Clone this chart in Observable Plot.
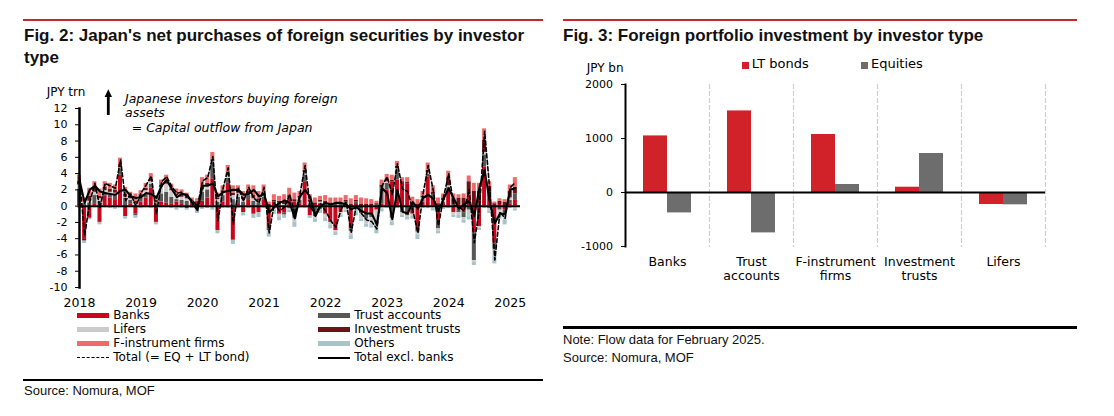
<!DOCTYPE html>
<html><head><meta charset="utf-8">
<script src="https://cdn.jsdelivr.net/npm/d3@7"></script>
<script src="https://cdn.jsdelivr.net/npm/@observablehq/plot@0.6"></script>
<style>
body{margin:0;background:#fff;}
#root{position:relative;width:1114px;height:416px;overflow:hidden;font-family:"DejaVu Sans",sans-serif;color:#000;}
.abs{position:absolute;white-space:nowrap;}
.title{font-family:"Liberation Sans",Arial,sans-serif;font-weight:bold;font-size:17px;line-height:21.5px;color:#111;}
.src{font-family:"Liberation Sans",Arial,sans-serif;font-size:13px;line-height:15px;color:#111;}
.ann{font-family:"DejaVu Sans",sans-serif;font-style:italic;font-size:12.5px;line-height:14.5px;}
.leg{font-family:"DejaVu Sans",sans-serif;font-size:12px;line-height:14px;}
svg{overflow:visible;}
</style>
</head><body>
<div id="root">
  <div class="abs" style="left:23px;top:18.7px;width:520px;height:2.8px;background:#c4262e"></div>
  <div class="abs" style="left:563px;top:18.7px;width:514px;height:2.8px;background:#c4262e"></div>
  <div class="abs title" style="left:24px;top:25.4px;">Fig. 2: Japan's net purchases of foreign securities by investor<br>type</div>
  <div class="abs title" style="left:563px;top:25.4px;">Fig. 3: Foreign portfolio investment by investor type</div>

  <div class="abs" style="left:23px;top:379px;width:520px;height:2.2px;background:#000"></div>
  <div class="abs src" style="left:24px;top:383px;">Source: Nomura, MOF</div>
  <div class="abs" style="left:563px;top:326px;width:514px;height:2.6px;background:#000"></div>
  <div class="abs src" style="left:563px;top:331.5px;">Note: Flow data for February 2025.</div>
  <div class="abs src" style="left:563px;top:349.5px;">Source: Nomura, MOF</div>

  <div id="left" class="abs" style="left:0;top:80px;"></div>
  <div id="right" class="abs" style="left:555px;top:60px;"></div>

  <div class="abs" style="left:46.7px;top:84.8px;font-size:12px;line-height:14px;">JPY trn</div>
  <svg class="abs" style="left:100px;top:86px;" width="16" height="32">
    <polygon points="8.3,3.3 4.6,11 12,11" fill="#000"/>
    <rect x="6.9" y="10" width="2.8" height="19" fill="#000"/>
  </svg>
  <div class="abs ann" style="left:125px;top:91.6px;">Japanese investors buying foreign</div>
  <div class="abs ann" style="left:125px;top:106.2px;">assets</div>
  <div class="abs ann" style="left:131.7px;top:120.8px;">= Capital outflow from Japan</div>

  <div id="legLeft"></div>

  <div class="abs" style="left:586.7px;top:61.6px;font-size:12px;line-height:13px;">JPY bn</div>
  <div id="legRight"></div>
</div>
<script>
// ---------- Fig. 2 data (JPY trn, monthly Jan 2018 – Feb 2025) ----------
const years = ["2018","2019","2020","2021","2022","2023","2024","2025"];
const monthIndex = d3.range(86); // 0 = Jan 2018 ... 85 = Feb 2025

const banks = [
  0.3,-4.0,-1.5,0.3,-2.0,1.2,1.0,0.8,3.8,-1.3,0.3,-1.0,
  0.5,1.0,2.2,-2.0,0.5,0.4,0.3,0.5,0.2,-0.3,0.3,0.5,
  0.6,1.0,3.3,-3.0,0.5,2.8,-4.2,0.2,-0.8,0.8,-1.0,-0.8,
  0.8,-2.5,0.5,-1.0,-0.8,1.0,0.5,0.3,3.0,-1.2,0.2,0.3,
  -1.0,-2.0,-3.0,-0.8,0.3,-2.8,0.2,-0.3,-0.8,-1.0,-0.5,0.3,
  2.0,3.0,3.2,2.8,2.7,-1.0,-3.0,0.5,3.6,1.0,-1.8,0.2,
  1.8,-0.8,0.2,-0.8,1.4,-3.3,-2.5,4.8,1.5,-4.5,0.2,-0.5,
  0.3,0.7];
const trustAccounts = [
  1.8,0.3,0.4,1.0,0.6,0.5,0.4,0.6,0.8,1.0,0.4,-0.2,
  0.5,0.4,0.5,0.3,1.0,1.3,0.8,0.3,0.5,0.6,0.2,-0.3,
  1.1,1.0,2.0,0.5,0.8,0.6,0.8,0.9,0.5,0.5,0.6,0.4,
  0.3,-0.5,-0.3,0.4,-0.3,-0.3,-1.5,0.4,0.8,0.3,-1.3,-0.4,
  0.3,0.2,0.2,0.2,0.2,-0.3,0.3,-0.6,-0.8,-0.4,0.2,2.0,
  0.8,-1.5,1.2,-0.8,-1.2,0.3,-0.2,0.3,0.3,0.4,-1.0,0.3,
  0.5,0.2,-0.8,-0.6,-0.5,-3.4,0.3,1.5,-0.3,-0.8,-0.5,-0.6,
  0.4,0.8];
const lifers = [
  0.5,0.2,0.2,0.4,0.3,0.2,0.3,0.2,0.1,0.1,0.2,0.3,
  0.2,0.5,0.3,0.1,0.8,1.0,0.8,0.5,0.4,0.3,0.1,-0.2,
  0.3,0.5,0.2,0.3,0.3,0.3,0.5,0.5,0.3,0.2,0.3,0.2,
  0.2,-0.3,-0.2,-0.3,0.2,-0.2,-0.5,0.3,0.3,0.2,-0.3,0.2,
  -0.5,-0.3,-0.2,-0.3,-0.5,-0.5,-0.8,-0.7,-0.6,-1.0,-2.3,-0.4,
  0.2,-0.5,0.2,-0.3,-0.2,-0.2,-0.4,0.2,0.2,-0.3,-0.3,0.2,
  0.2,-0.3,-0.3,-0.3,-0.8,-0.2,-0.2,0.3,-0.3,-0.8,-0.6,-0.6,
  0.3,-0.4];
const investmentTrusts = [
  0.5,-0.3,0.6,0.5,0.3,0.4,0.4,0.4,0.4,0.4,0.3,0.3,
  0.2,0.3,0.3,0.3,0.3,0.3,0.2,0.2,0.2,0.2,0.1,0.1,
  0.3,0.3,0.2,0.2,0.3,0.3,0.3,0.3,0.3,0.3,0.4,0.3,
  0.3,0.2,0.2,0.2,0.3,0.3,0.3,0.2,0.3,0.2,0.2,0.2,
  0.3,0.2,0.2,0.2,0.2,0.2,0.2,0.2,0.2,0.2,0.1,0.3,
  0.3,0.2,0.3,0.2,0.2,0.2,0.2,0.2,0.3,0.3,0.3,0.3,
  1.0,0.8,0.8,1.0,1.6,1.8,1.5,1.5,0.9,0.3,0.4,0.5,
  0.8,0.8];
const fInstrumentFirms = [
  0.7,0.5,1.0,0.8,0.9,0.7,0.7,0.6,0.8,0.8,0.5,0.9,
  0.5,0.6,0.7,0.6,0.6,0.8,0.6,0.6,0.7,0.5,0.3,0.3,
  1.2,1.0,0.9,0.6,0.6,1.0,0.9,0.6,0.7,0.8,1.2,0.9,
  1.0,0.3,0.7,0.6,0.9,0.9,0.8,0.6,0.9,0.7,0.6,0.5,
  0.7,0.6,0.6,0.6,0.6,0.7,0.6,0.8,0.7,0.6,0.3,0.6,
  0.6,0.6,0.6,0.5,0.6,0.6,0.6,0.6,0.9,0.8,0.7,0.5,
  0.8,0.5,0.4,0.5,0.7,1.0,1.0,1.4,0.6,0.2,0.3,0.3,
  0.8,1.2];
const others = [
  -0.3,-0.3,-0.2,-0.2,-0.3,-0.2,-0.3,-0.4,-0.2,-0.3,-0.2,-0.3,
  -0.3,-0.2,-0.3,-0.3,-0.2,-0.2,-0.3,-0.5,-0.3,-0.2,-0.3,-0.4,
  -0.4,-0.3,-0.5,-0.4,-0.3,-0.3,-0.5,-0.3,-0.4,-0.3,-0.5,-0.6,
  -0.3,-0.5,-0.5,-0.5,-0.4,-0.3,-0.6,-0.3,-0.3,-0.3,-0.4,-0.5,
  -0.4,-0.5,-0.4,-0.3,-0.3,-0.5,-0.4,-0.3,-0.4,-0.3,-0.6,-0.3,
  -0.3,-0.4,-0.3,-0.3,-0.3,-0.4,-0.5,-0.3,-0.3,-0.3,-0.3,-0.4,
  -0.3,-0.3,-0.4,-0.4,-0.4,-0.4,-0.3,-0.3,-0.3,-1.0,-0.5,-0.6,
  -0.3,-0.2];
const totalEqLtBond = [
  3.5,-3.6,0.5,2.8,-0.2,2.8,2.5,2.2,5.7,0.7,1.5,0.0,
  1.6,2.6,3.7,-1.0,3.0,3.6,2.4,1.6,1.7,1.1,0.7,0.0,
  3.1,3.5,6.1,-1.8,2.2,4.7,-2.2,2.2,0.6,2.3,1.0,0.4,
  2.3,-3.3,0.4,-0.6,-0.1,1.4,-1.0,1.5,5.0,-0.1,-1.0,0.3,
  -0.6,-1.8,-2.6,-0.4,0.5,-3.2,0.1,-0.9,-1.7,-1.9,-2.8,2.5,
  3.6,1.4,5.2,2.1,1.8,-0.5,-3.3,1.5,5.0,1.9,-2.4,1.1,
  4.0,0.1,-0.1,-0.6,2.0,-4.5,-0.2,9.2,2.1,-6.6,-0.7,-1.5,
  2.3,2.9];
const totalExclBanks = [
  3.2,0.4,2.0,2.5,1.8,1.6,1.5,1.4,1.9,2.0,1.2,1.0,
  1.1,1.6,1.5,1.0,2.5,3.2,2.1,1.1,1.5,1.4,0.4,-0.5,
  2.5,2.5,2.8,1.2,1.7,1.9,2.0,2.0,1.4,1.5,2.0,1.2,
  1.5,-0.8,-0.1,0.4,0.7,0.4,-1.5,1.2,2.0,1.1,-1.2,0.0,
  0.4,0.2,0.4,0.4,0.2,-0.4,-0.1,-0.6,-0.9,-0.9,-2.3,2.2,
  1.6,-1.6,2.0,-0.7,-0.9,0.5,-0.3,1.0,1.4,0.9,-0.6,0.9,
  2.2,0.9,-0.3,0.2,0.6,-1.2,2.3,4.4,0.6,-2.1,-0.9,-1.0,
  2.0,2.2];

const seriesNames = ["Banks","Trust accounts","Lifers","Investment trusts","F-instrument firms","Others"];
const seriesColors = ["#c8071c","#575757","#cbcbcb","#6b1317","#ee6b6b","#a8c4c9"];
const yTicksLeft = [-10,-8,-6,-4,-2,0,2,4,6,8,10,12];

// ---------- Fig. 3 data (JPY bn, February 2025) ----------
const categories = ["Banks","Trust accounts","F-instrument firms","Investment trusts","Lifers"];
const categoryLabels = ["Banks","Trust\naccounts","F-instrument\nfirms","Investment\ntrusts","Lifers"];
const fpiTypes = ["LT bonds","Equities"];
const ltBonds = [1048, 1511, 1074, 98, -222];
const equities = [-378, -748, 148, 722, -228];
const fpiColors = ["#d1222a","#6d6d6d"];
const yTicksRight = [-1000, 0, 1000, 2000];

// ---------- Fig. 2 ----------
const seriesValues = [banks, trustAccounts, lifers, investmentTrusts, fInstrumentFirms, others];
const stacked = seriesNames.flatMap((s, k) => monthIndex.map(i => ({i, series: s, value: seriesValues[k][i]})));
const lines = monthIndex.map(i => ({i, total: totalEqLtBond[i], excl: totalExclBanks[i]}));

const left = Plot.plot({
  width: 540, height: 230,
  marginLeft: 79, marginRight: 20, marginTop: 28, marginBottom: 23,
  style: {fontFamily: "DejaVu Sans, sans-serif", fontSize: "11px", background: "transparent", color: "#000"},
  x: {domain: [0, 86], axis: null},
  y: {domain: [-10, 12], axis: null},
  color: {domain: seriesNames, range: seriesColors},
  marks: [
    Plot.rectY(stacked, Plot.stackY({
      x1: d => d.i - 0.5, x2: d => d.i + 0.5, y: "value", fill: "series",
      order: seriesNames, insetLeft: 0.55, insetRight: 0.55
    })),
    Plot.ruleY([0], {stroke: "#000", strokeWidth: 2}),
    Plot.line(lines, {x: "i", y: "total", stroke: "#000", strokeWidth: 1.6, strokeDasharray: "4,2.5"}),
    Plot.line(lines, {x: "i", y: "excl", stroke: "#000", strokeWidth: 2.1}),
    Plot.frame({anchor: "left", stroke: "#000", strokeWidth: 2.5}),
    Plot.axisY({ticks: yTicksLeft, tickSize: 4, tickPadding: 8, tickFormat: d => String(d), label: null, fontSize: 11}),
    Plot.axisX({ticks: years.map((y, k) => k * 12), tickSize: 0, tickPadding: 11,
      tickFormat: d => years[d / 12], label: null, fontSize: 12.5})
  ]
});
document.getElementById("left").appendChild(left);

// legend for Fig. 2
const legLeft = document.getElementById("legLeft");
const legItems = [
  {name: "Banks", col: 0, row: 0}, {name: "Trust accounts", col: 1, row: 0},
  {name: "Lifers", col: 0, row: 1}, {name: "Investment trusts", col: 1, row: 1},
  {name: "F-instrument firms", col: 0, row: 2}, {name: "Others", col: 1, row: 2},
  {name: "Total (= EQ + LT bond)", col: 0, row: 3, line: "dashed"},
  {name: "Total excl. banks", col: 1, row: 3, line: "solid"}
];
const colX = [77.3, 318.3], rowY = [319.5, 333.5, 347.5, 361.5];
for (const it of legItems) {
  const sw = document.createElement("div");
  sw.className = "abs";
  const bx = colX[it.col], by = rowY[it.row];
  if (it.line) {
    sw.style.cssText = `left:${bx}px;top:${by - 5}px;width:32px;height:0;border-top:${it.line === "dashed" ? "1.6px dashed" : "2px solid"} #000;`;
  } else {
    sw.style.cssText = `left:${bx}px;top:${by - 7}px;width:32px;height:5.5px;background:${seriesColors[seriesNames.indexOf(it.name)]};`;
  }
  legLeft.appendChild(sw);
  const tx = document.createElement("div");
  tx.className = "abs leg";
  tx.style.left = (bx + 36) + "px";
  tx.style.top = (by - 11.1) + "px";
  tx.textContent = it.name;
  legLeft.appendChild(tx);
}

// ---------- Fig. 3 ----------
const fpi = categories.flatMap((c, k) => [
  {cat: c, type: fpiTypes[0], value: ltBonds[k]},
  {cat: c, type: fpiTypes[1], value: equities[k]}
]);
const right = Plot.plot({
  width: 500, height: 230,
  marginLeft: 70, marginRight: 10, marginTop: 24, marginBottom: 44,
  style: {fontFamily: "DejaVu Sans, sans-serif", fontSize: "11px", background: "transparent", color: "#000"},
  fx: {domain: categories, padding: 0, label: null, axis: null},
  x: {domain: fpiTypes, paddingInner: 0, paddingOuter: 0.75, axis: null},
  y: {domain: [-1000, 2000], axis: null},
  color: {domain: fpiTypes, range: fpiColors},
  marks: [
    Plot.frame({anchor: "right", stroke: "#cfcfcf", strokeWidth: 1.2, strokeDasharray: "4,3"}),
    Plot.barY(fpi, {fx: "cat", x: "type", y: "value", fill: "type"}),
    Plot.ruleY([0], {stroke: "#000", strokeWidth: 2}),
    Plot.frame({anchor: "left", facetAnchor: "left", stroke: "#000", strokeWidth: 2}),
    Plot.axisY({ticks: yTicksRight, tickSize: 4, tickPadding: 8.5, tickFormat: d => String(d), label: null, fontSize: 11}),
    Plot.axisFx({anchor: "bottom", tickSize: 0, tickPadding: 10, lineHeight: 1.1, fontSize: 12.5,
      tickFormat: d => categoryLabels[categories.indexOf(d)], label: null})
  ]
});
document.getElementById("right").appendChild(right);

// legend for Fig. 3
const legRight = document.getElementById("legRight");
const lrX = [741.7, 861];
fpiTypes.forEach((t, k) => {
  const sq = document.createElement("div");
  sq.className = "abs";
  sq.style.cssText = `left:${lrX[k]}px;top:61.7px;width:7px;height:7px;background:${fpiColors[k]};`;
  legRight.appendChild(sq);
  const tx = document.createElement("div");
  tx.className = "abs";
  tx.style.cssText = `left:${lrX[k] + 10}px;top:56.3px;font-size:13px;line-height:15px;`;
  tx.textContent = t;
  legRight.appendChild(tx);
});
</script>
</body></html>
